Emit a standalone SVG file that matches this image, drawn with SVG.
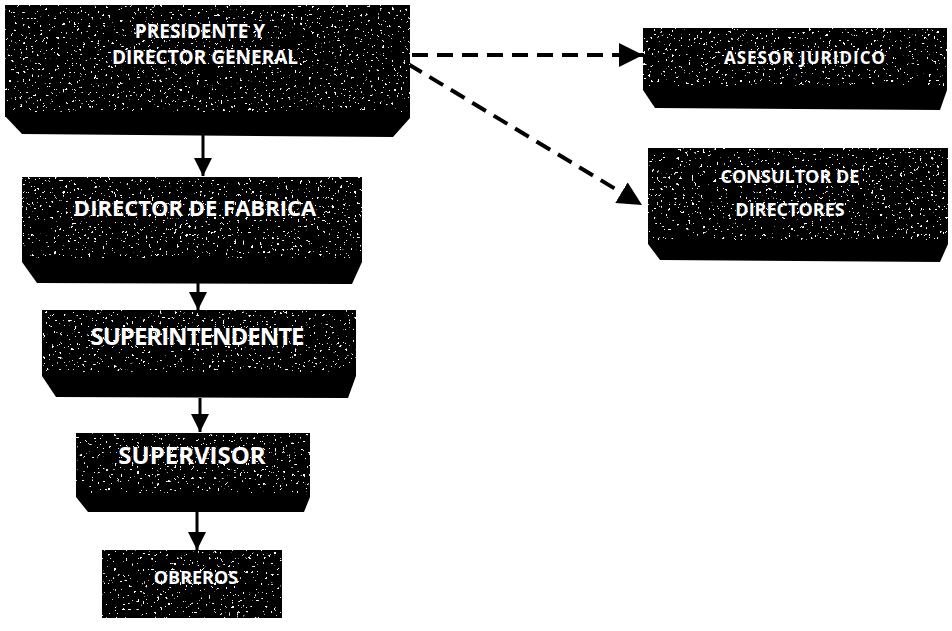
<svg xmlns="http://www.w3.org/2000/svg" width="952" height="631" viewBox="0 0 952 631">
<style>
.face{fill:#000}
.noisy{filter:url(#speck)}
.shelf{fill:#000}
.lbl{font-family:"Open Sans","DejaVu Sans",sans-serif;font-weight:bold;fill:#fff;text-anchor:middle}
.solid{stroke:#000;stroke-width:3;fill:none}
.dash{stroke:#000;stroke-width:4;fill:none;stroke-dasharray:16 9}
</style>
<defs>
<filter id="speck" x="0" y="0" width="1" height="1">
<feTurbulence type="fractalNoise" baseFrequency="0.35" numOctaves="2" seed="3" result="n"/>
<feColorMatrix in="n" type="matrix" values="0 0 0 0 1  0 0 0 0 1  0 0 0 0 1  0 0 0 30 -21" result="s"/>
<feComposite in="s" in2="SourceGraphic" operator="in" result="sp"/>
<feMerge><feMergeNode in="SourceGraphic"/><feMergeNode in="sp"/></feMerge>
</filter>
<marker id="ah" viewBox="0 0 10 10" refX="10" refY="5" markerWidth="6" markerHeight="6" orient="auto" markerUnits="strokeWidth">
<path d="M0,0 L10,5 L0,10 z" fill="#000"/>
</marker>
<marker id="ahd" viewBox="0 0 10 10" refX="10" refY="5" markerWidth="6" markerHeight="6" orient="auto" markerUnits="strokeWidth">
<path d="M0,0 L10,5 L0,10 z" fill="#000"/>
</marker>
</defs>

<g id="connectors">
<line class="solid" x1="203" y1="134" x2="203" y2="176" marker-end="url(#ah)"/>
<line class="solid" x1="198" y1="283" x2="198" y2="310" marker-end="url(#ah)"/>
<line class="solid" x1="200" y1="398" x2="200" y2="432" marker-end="url(#ah)"/>
<line class="solid" x1="197" y1="512" x2="197" y2="550" marker-end="url(#ah)"/>
<line class="dash" x1="412" y1="55" x2="643" y2="55" marker-end="url(#ahd)"/>
<line class="dash" x1="408" y1="64" x2="642" y2="205" marker-end="url(#ahd)"/>
</g>

<g id="presidente">
<rect class="face noisy" x="5" y="5" width="405" height="112"/>
<polygon class="shelf" points="5,112 410,112 410,118 393,137 22,134 5,116"/>
<text class="lbl" x="200" y="38" font-size="19">PRESIDENTE Y</text>
<text class="lbl" x="205" y="64" font-size="19">DIRECTOR GENERAL</text>
</g>

<g id="asesor">
<rect class="face noisy" x="643" y="28" width="304" height="62"/>
<polygon class="shelf" points="643,86 947,86 947,90 940,110 655,108 643,90"/>
<text class="lbl" x="805" y="64" font-size="17" letter-spacing="1">ASESOR JURIDICO</text>
</g>

<g id="consultor">
<rect class="face noisy" x="648" y="148" width="300" height="96"/>
<polygon class="shelf" points="648,240 948,240 948,244 940,262 660,260 648,244"/>
<text class="lbl" x="790" y="183" font-size="18">CONSULTOR DE</text>
<text class="lbl" x="790" y="216" font-size="18">DIRECTORES</text>
</g>

<g id="director-fabrica">
<rect class="face noisy" x="22" y="177" width="340" height="85"/>
<polygon class="shelf" points="22,258 362,258 362,262 352,284 37,283 22,262"/>
<text class="lbl" x="195" y="216" font-size="22">DIRECTOR DE FABRICA</text>
</g>

<g id="superintendente">
<rect class="face noisy" x="42" y="310" width="314" height="66"/>
<polygon class="shelf" points="42,372 356,372 356,376 348,398 56,397 42,376"/>
<text class="lbl" x="197" y="345" font-size="24" letter-spacing="-1">SUPERINTENDENTE</text>
</g>

<g id="supervisor">
<rect class="face noisy" x="76" y="433" width="234" height="64"/>
<polygon class="shelf" points="76,493 310,493 310,497 304,512 88,512 76,497"/>
<text class="lbl" x="192" y="464" font-size="24">SUPERVISOR</text>
</g>

<g id="obreros">
<rect class="face noisy" x="102" y="550" width="180" height="68"/>
<text class="lbl" x="196" y="584" font-size="18">OBREROS</text>
</g>
</svg>
